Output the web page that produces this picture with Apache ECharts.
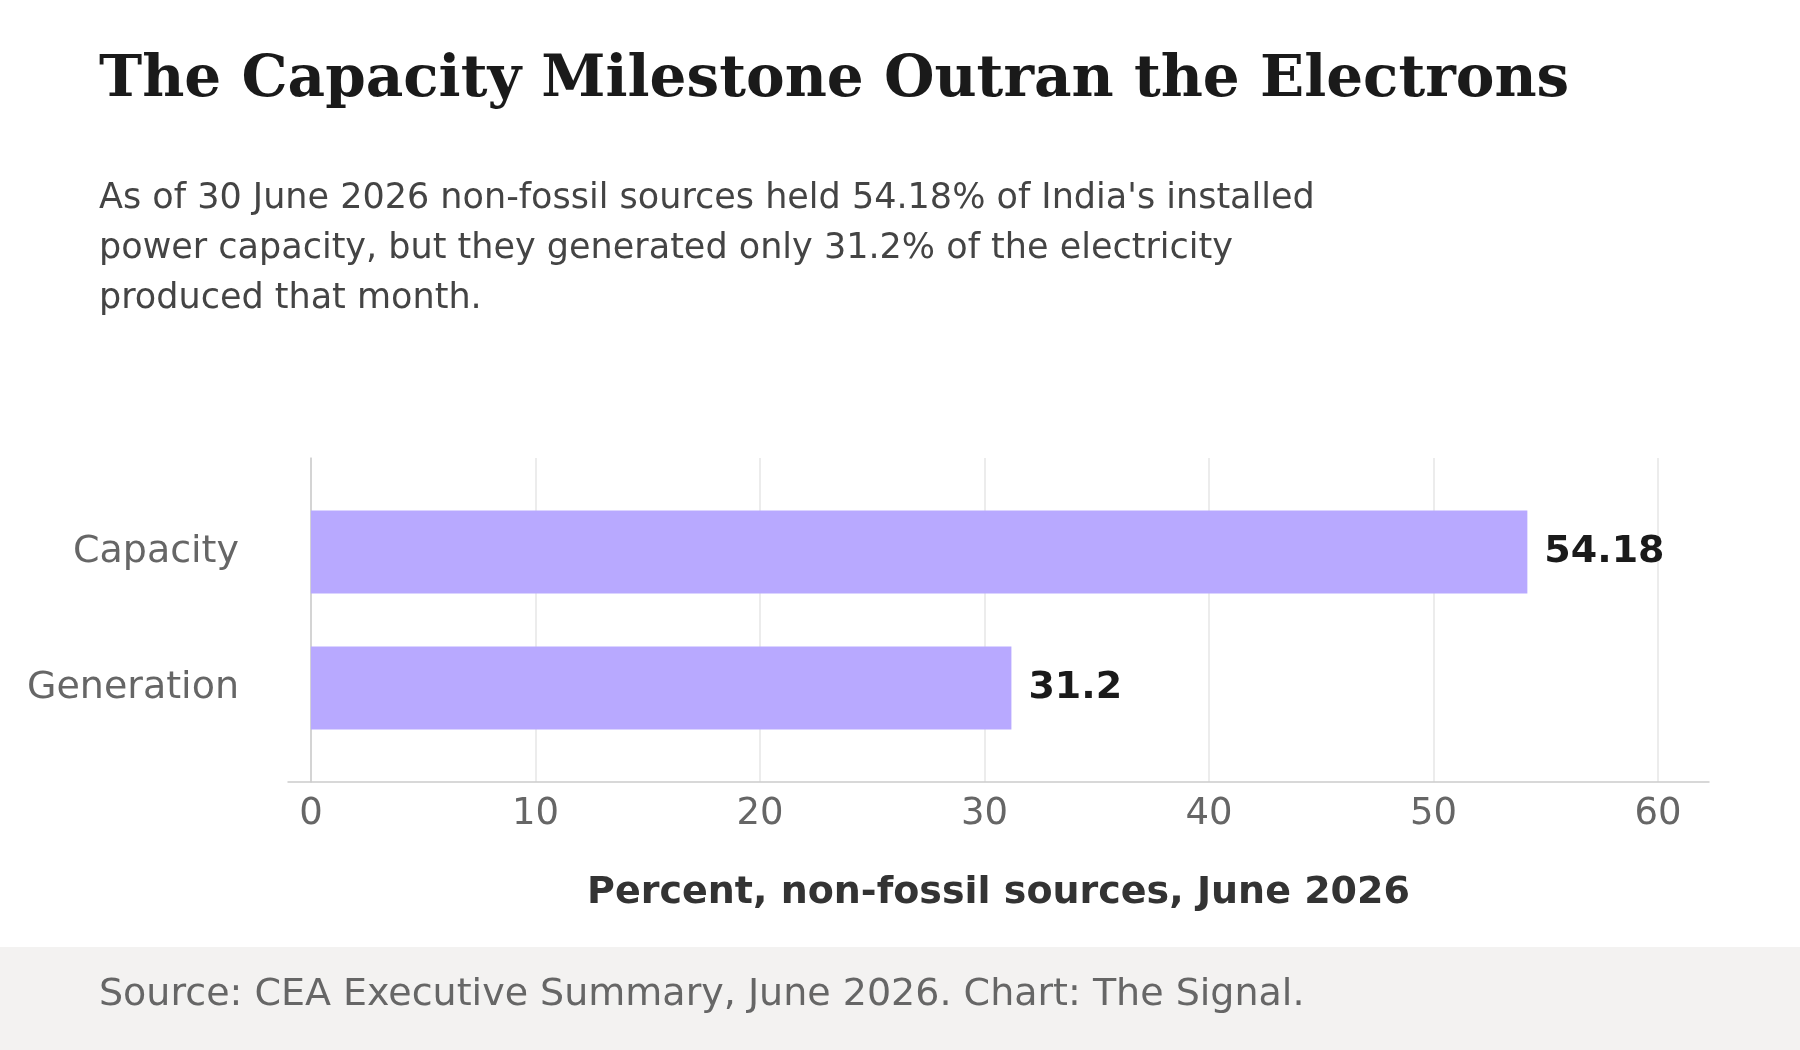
<!DOCTYPE html>
<html><head><meta charset="utf-8">
<script src="https://cdn.jsdelivr.net/npm/echarts@6/dist/echarts.min.js"></script>
<style>html,body{margin:0;padding:0;background:#fff}#c{width:1800px;height:1050px}</style>
</head><body><div id="c"></div>
<script>
const categories = ['Generation', 'Capacity'];
const values = [31.2, 54.18];
const xTicks = [0, 10, 20, 30, 40, 50, 60];
const title = 'The Capacity Milestone Outran the Electrons';
const subtitle = "As of 30 June 2026 non-fossil sources held 54.18% of India's installed\npower capacity, but they generated only 31.2% of the electricity\nproduced that month.";
const source = 'Source: CEA Executive Summary, June 2026. Chart: The Signal.';
const axisName = 'Percent, non-fossil sources, June 2026';

const chart = echarts.init(document.getElementById('c'));
const F = 'DejaVu Sans';
chart.setOption({
  backgroundColor: '#fff',
  graphic: [
    {type:'rect', shape:{x:0,y:947,width:1800,height:103}, style:{fill:'#f3f2f1'}, silent:true},
    {type:'text', left:99, top:52, style:{text:title, font:'bold 58px "DejaVu Serif"', fill:'#1a1a1a'}},
    {type:'text', left:99, top:174, style:{text:subtitle, font:'35px "DejaVu Sans"', fill:'#444', lineHeight:50}},
    {type:'text', left:99, top:976, style:{text:source, font:'38px "DejaVu Sans"', fill:'#666'}}
  ],
  grid: [
    {left:288, right:91, top:458, bottom:268},
    {left:288, right:91, top:484, bottom:294}
  ],
  xAxis: [{
    gridIndex:0, type:'value', min:-1.02, max:62.27,
    name: axisName, nameLocation:'middle', nameGap:92,
    nameTextStyle:{fontFamily:F, fontWeight:'bold', fontSize:38, color:'#333'},
    axisLine:{show:true, lineStyle:{color:'#ccc', width:1.5}},
    axisTick:{show:false, customValues:xTicks},
    axisLabel:{customValues:xTicks, fontFamily:F, fontSize:37, color:'#666', margin:14},
    splitLine:{show:true, lineStyle:{color:'#e6e6e6', width:1.5}}
  },{
    gridIndex:1, type:'value', min:-1.02, max:62.27, show:false
  }],
  yAxis: [{
    gridIndex:0, type:'value', min:0, max:1,
    axisLine:{show:true, lineStyle:{color:'#ccc', width:1.5}},
    axisTick:{show:false}, axisLabel:{show:false}, splitLine:{show:false}
  },{
    gridIndex:1, type:'category', data:categories,
    axisLine:{show:false}, axisTick:{show:false},
    axisLabel:{fontFamily:F, fontSize:38, color:'#666', margin:49}
  }],
  series: [{
    type:'bar', xAxisIndex:1, yAxisIndex:1, barWidth:83,
    data: values,
    itemStyle:{color:'#b8a9ff'},
    label:{show:true, position:'right', distance:17,
      fontFamily:F, fontWeight:'bold', fontSize:38, color:'#1a1a1a'}
  }]
});
</script></body></html>
